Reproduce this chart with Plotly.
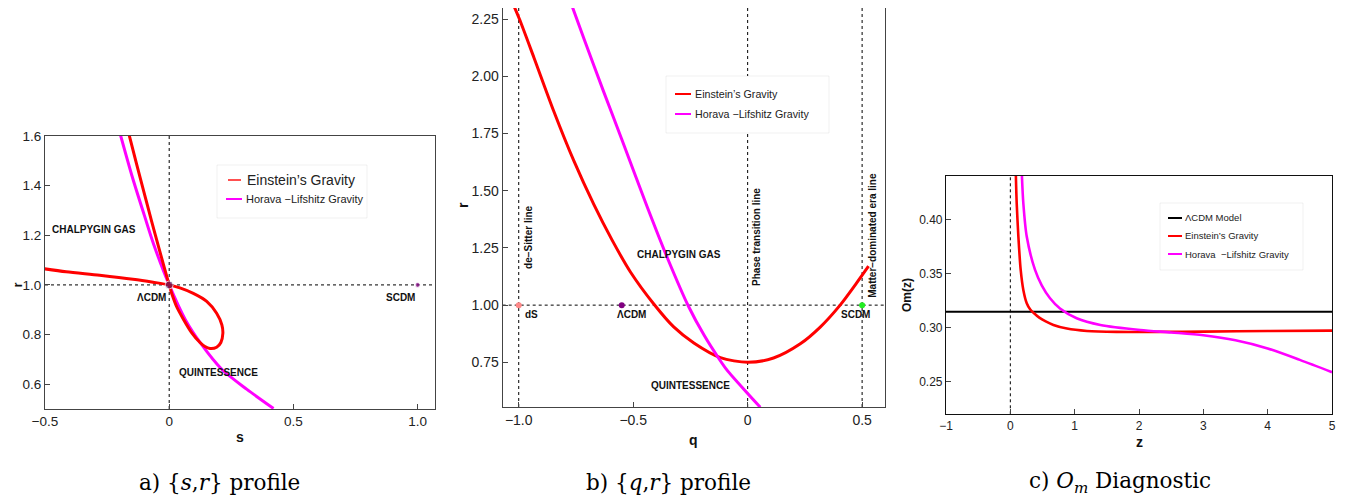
import plotly.graph_objects as go

W, H = 1361, 500
OFF = 8  # page body margin compensation (px)

# ---------------- Panel a: {s, r} profile ----------------
s_einstein = [-0.503, -0.415, -0.280, -0.146, -0.065, 0.0, 0.043, 0.097, 0.151, 0.191, 0.212, 0.216,
              0.208, 0.191, 0.164, 0.144, 0.124, 0.090, 0.057, 0.030, 0.012, 0.0, -0.018, -0.040,
              -0.071, -0.102, -0.132, -0.162]
r_einstein_s = [1.065, 1.053, 1.039, 1.023, 1.011, 1.0, 0.988, 0.966, 0.934, 0.886, 0.839, 0.805,
                0.768, 0.749, 0.744, 0.752, 0.768, 0.808, 0.862, 0.912, 0.960, 1.0, 1.064, 1.143,
                1.257, 1.375, 1.490, 1.607]
s_horava = [-0.197, -0.15, -0.10, -0.063, 0.0, 0.065, 0.13, 0.2125, 0.313, 0.42]
r_horava_s = [1.607, 1.44, 1.28, 1.165, 1.0, 0.86, 0.76, 0.659, 0.579, 0.502]
sr_point_s = [0.0, 1.0]
sr_point_r = [1.0, 1.0]
sr_point_names = ["ΛCDM", "SCDM"]
sr_ref_s = 0.0
sr_ref_r = 1.0

# ---------------- Panel b: {q, r} profile ----------------
q_einstein = [-1.028, -0.997, -0.933, -0.846, -0.759, -0.672, -0.592, -0.512, -0.41, -0.323,
              -0.235, -0.119, 0.0, 0.113, 0.230, 0.317, 0.404, 0.477, 0.528]
r_einstein_q = [2.323, 2.250, 2.080, 1.845, 1.630, 1.440, 1.284, 1.145, 1.005, 0.905,
                0.835, 0.771, 0.75, 0.769, 0.831, 0.904, 1.0, 1.098, 1.17]
q_horava = [-0.773, -0.713, -0.63, -0.55, -0.439, -0.35, -0.258, -0.19, -0.126, -0.09, 0.0, 0.055]
r_horava_q = [2.323, 2.158, 1.935, 1.725, 1.43, 1.205, 0.994, 0.868, 0.767, 0.716, 0.614, 0.554]
qr_point_q = [-1.0, -0.55, 0.5]
qr_point_r = [1.0, 1.0, 1.0]
qr_point_names = ["dS", "ΛCDM", "SCDM"]
qr_point_colors = ["#ff8a8a", "#800080", "#22ee22"]
q_ref_lines = [-1.0, 0.0, 0.5]
q_ref_names = ["de−Sitter line", "Phase transition line", "Matter−dominated era line"]
qr_ref_r = 1.0

# ---------------- Panel c: Om diagnostic ----------------
z_einstein = [0.086, 0.099, 0.125, 0.161, 0.202, 0.255, 0.31, 0.36, 0.45, 0.55, 0.67, 0.88, 1.19,
              1.65, 2.3, 3.0, 4.0, 5.0]
om_einstein = [0.441, 0.4155, 0.3846, 0.3537, 0.3352, 0.3229, 0.3170, 0.3140, 0.3095, 0.3060, 0.3028,
               0.2994, 0.2972, 0.2963, 0.2963, 0.2966, 0.2971, 0.2975]
z_horava = [0.18, 0.202, 0.255, 0.384, 0.488, 0.617, 0.772, 1.031, 1.4, 2.02, 2.5, 3.0, 3.5, 4.0, 4.5, 5.0]
om_horava = [0.441, 0.4155, 0.3846, 0.3537, 0.3395, 0.3275, 0.318, 0.309, 0.3028, 0.2981, 0.2958,
             0.2932, 0.2886, 0.2810, 0.2704, 0.259]
z_lcdm = [-1.0, 5.0]
om_lcdm = [0.315, 0.315]
z_ref = 0.0

RED = "#ff0000"
MAG = "#ff00ff"
SANS = "Liberation Sans"


def px(x):
    return (x - OFF) / W


def py(y):
    return min(1.0, 1 - (y - OFF) / H)


fig = go.Figure()

# Panel a traces
fig.add_trace(go.Scatter(x=s_horava, y=r_horava_s, mode="lines", line=dict(color=MAG, width=3, shape="spline", smoothing=0.8),
                         xaxis="x", yaxis="y", showlegend=False))
fig.add_trace(go.Scatter(x=s_einstein, y=r_einstein_s, mode="lines", line=dict(color=RED, width=3, shape="spline", smoothing=0.8),
                         xaxis="x", yaxis="y", showlegend=False))
fig.add_trace(go.Scatter(x=sr_point_s, y=sr_point_r, mode="markers",
                         marker=dict(color=["#5e1a63", "#800080"], size=[8, 5]),
                         xaxis="x", yaxis="y", showlegend=False))

# Panel b traces
fig.add_trace(go.Scatter(x=q_einstein, y=r_einstein_q, mode="lines", line=dict(color=RED, width=3, shape="spline", smoothing=0.8),
                         xaxis="x2", yaxis="y2", showlegend=False))
fig.add_trace(go.Scatter(x=q_horava, y=r_horava_q, mode="lines", line=dict(color=MAG, width=3, shape="spline", smoothing=0.8),
                         xaxis="x2", yaxis="y2", showlegend=False))
fig.add_trace(go.Scatter(x=qr_point_q, y=qr_point_r, mode="markers",
                         marker=dict(color=qr_point_colors, size=6),
                         xaxis="x2", yaxis="y2", showlegend=False))

# Panel c traces
fig.add_trace(go.Scatter(x=z_lcdm, y=om_lcdm, mode="lines", line=dict(color="black", width=2.2),
                         xaxis="x3", yaxis="y3", showlegend=False))
fig.add_trace(go.Scatter(x=z_einstein, y=om_einstein, mode="lines", line=dict(color=RED, width=2.6, shape="spline", smoothing=0.8),
                         xaxis="x3", yaxis="y3", showlegend=False))
fig.add_trace(go.Scatter(x=z_horava, y=om_horava, mode="lines", line=dict(color=MAG, width=2.6, shape="spline", smoothing=0.8),
                         xaxis="x3", yaxis="y3", showlegend=False))

DASH = "3px,3px"
shapes = []
# reference dashed lines
shapes.append(dict(type="line", xref="x domain", yref="y", x0=0, x1=1, y0=sr_ref_r, y1=sr_ref_r,
                   line=dict(color="black", width=1, dash=DASH), layer="below"))
shapes.append(dict(type="line", xref="x", yref="y domain", x0=sr_ref_s, x1=sr_ref_s, y0=0, y1=1,
                   line=dict(color="black", width=1, dash=DASH), layer="below"))
shapes.append(dict(type="line", xref="x2 domain", yref="y2", x0=0, x1=1, y0=qr_ref_r, y1=qr_ref_r,
                   line=dict(color="black", width=1, dash=DASH), layer="below"))
for qv in q_ref_lines:
    shapes.append(dict(type="line", xref="x2", yref="y2 domain", x0=qv, x1=qv, y0=0, y1=1,
                       line=dict(color="black", width=1, dash=DASH), layer="below"))
shapes.append(dict(type="line", xref="x3", yref="y3 domain", x0=z_ref, x1=z_ref, y0=0, y1=1,
                   line=dict(color="black", width=1, dash=DASH), layer="below"))

# legend boxes
for (x0, y0, x1, y1) in [(217, 165, 367, 218), (666, 76, 829, 133), (1160, 203, 1303, 270)]:
    shapes.append(dict(type="rect", xref="paper", yref="paper", x0=px(x0), x1=px(x1), y0=py(y1), y1=py(y0),
                       fillcolor="white", line=dict(color="rgba(0,0,0,0.06)", width=1), layer="above"))

annotations = []


def legend_item(x0, x1, y, color, text, size, tx, width=2):
    shapes.append(dict(type="line", xref="paper", yref="paper", x0=px(x0), x1=px(x1), y0=py(y), y1=py(y),
                       line=dict(color=color, width=width), layer="above"))
    annotations.append(dict(xref="paper", yref="paper", x=px(tx), y=py(y), text=text, showarrow=False,
                            xanchor="left", yanchor="middle", font=dict(family=SANS, size=size, color="#222")))


legend_item(228, 241, 180, "#ff5050", "Einstein’s Gravity", 14, 245)
legend_item(226, 242, 199, MAG, "Horava −Lifshitz Gravity", 11, 244)
legend_item(675, 691, 94, RED, "Einstein’s Gravity", 10.7, 693)
legend_item(675, 691, 114, MAG, "Horava −Lifshitz Gravity", 10.7, 693)
legend_item(1168, 1182, 218, "black", "ΛCDM Model", 9.5, 1183)
legend_item(1168, 1182, 236, RED, "Einstein’s Gravity", 9.5, 1183)
legend_item(1168, 1182, 254, MAG, "Horava \u00a0−Lifshitz Gravity", 9.5, 1183)


def label(xref, yref, x, y, text, size=10, angle=0, xanchor="center"):
    annotations.append(dict(xref=xref, yref=yref, x=x, y=y, text="<b>" + text + "</b>", showarrow=False,
                            textangle=angle, xanchor=xanchor, yanchor="middle", borderpad=0,
                            font=dict(family=SANS, size=size, color="#111")))


# Panel a labels
label("x", "y", -0.303, 1.224, "CHALPYGIN GAS")
label("x", "y", 0.198, 0.647, "QUINTESSENCE")
label("x", "y", -0.071, 0.951, sr_point_names[0])
label("x", "y", 0.933, 0.951, sr_point_names[1])
# Panel b labels
label("x2", "y2", -0.946, 0.961, qr_point_names[0])
label("x2", "y2", -0.509, 0.961, qr_point_names[1])
label("x2", "y2", 0.472, 0.961, qr_point_names[2])
label("x2", "y2", -0.298, 1.221, "CHALPYGIN GAS")
label("x2", "y2", -0.25, 0.648, "QUINTESSENCE")
label("x2", "y2", -0.955, 1.298, q_ref_names[0], angle=-90)
label("x2", "y2", 0.041, 1.298, q_ref_names[1], angle=-90)
label("x2", "y2", 0.544, 1.304, q_ref_names[2], angle=-90)

# axis titles
label("paper", "paper", px(240), py(437), "s", size=14)
label("paper", "paper", px(OFF), py(285), "r", size=13, angle=-90, xanchor="left")
label("paper", "paper", px(693), py(440), "q", size=14)
label("paper", "paper", px(463), py(205), "r", size=14, angle=-90)
label("paper", "paper", px(1139), py(442), "z", size=14)
label("paper", "paper", px(907), py(295), "Om(z)", size=12, angle=-90)

# captions
SERIF = "DejaVu Serif"
for cx, txt in [(219, "a) {<i>s</i>,<i>r</i>} profile"),
                (668, "b) {<i>q</i>,<i>r</i>} profile"),
                (1120, "c) <i>O</i><sub><i>m</i></sub> Diagnostic")]:
    annotations.append(dict(xref="paper", yref="paper", x=px(cx), y=py(482), text=txt, showarrow=False,
                            xanchor="center", yanchor="middle", font=dict(family=SERIF, size=21.5, color="black")))

axis_common = dict(showgrid=False, zeroline=False, showline=True, mirror=True, linecolor="#444", linewidth=1.2,
                   automargin=False,
                   ticks="inside", ticklen=5, tickcolor="#444", tickfont=dict(family=SANS, size=13.5, color="#222"))
axis_b = {**axis_common, "tickfont": dict(family=SANS, size=14, color="#222")}
axis_c = {**axis_common, "linecolor": "#111", "tickfont": dict(family=SANS, size=12, color="#222")}

# panel b frame top is clipped at the page top; keep the same data scale
b_top_px = max(3, OFF)
b_r_top = 2.25 + (19 - b_top_px) / 228.8

fig.update_layout(
    width=W, height=H, autosize=False,
    margin=dict(l=0, r=0, t=0, b=0, pad=0),
    paper_bgcolor="white", plot_bgcolor="white",
    showlegend=False,
    xaxis=dict(domain=[px(45), px(435)], anchor="y", range=[-0.5, 1.07],
               tickvals=[-0.5, 0, 0.5, 1.0], ticktext=["−0.5", "0", "0.5", "1.0"], **axis_common),
    yaxis=dict(domain=[py(409), py(136)], anchor="x", range=[0.5, 1.6],
               tickvals=[0.6, 0.8, 1.0, 1.2, 1.4, 1.6], ticktext=["0.6", "0.8", "1.0", "1.2", "1.4", "1.6"], **axis_common),
    xaxis2=dict(domain=[px(502.7), px(885)], anchor="y2", range=[-1.07, 0.6],
                tickvals=[-1.0, -0.5, 0, 0.5], ticktext=["−1.0", "−0.5", "0", "0.5"], **axis_b),
    yaxis2=dict(domain=[py(407), py(b_top_px)], anchor="x2", range=[0.555, b_r_top],
                tickvals=[0.75, 1.0, 1.25, 1.5, 1.75, 2.0, 2.25],
                ticktext=["0.75", "1.00", "1.25", "1.50", "1.75", "2.00", "2.25"], **axis_b),
    xaxis3=dict(domain=[px(946), px(1332)], anchor="y3", range=[-1, 5],
                tickvals=[-1, 0, 1, 2, 3, 4, 5], ticktext=["−1", "0", "1", "2", "3", "4", "5"], **axis_c),
    yaxis3=dict(domain=[py(414.3), py(175.7)], anchor="x3", range=[0.22, 0.441],
                tickvals=[0.25, 0.30, 0.35, 0.40], ticktext=["0.25", "0.30", "0.35", "0.40"], **axis_c),
    shapes=shapes,
    annotations=annotations,
)

fig.write_html("out.html")
